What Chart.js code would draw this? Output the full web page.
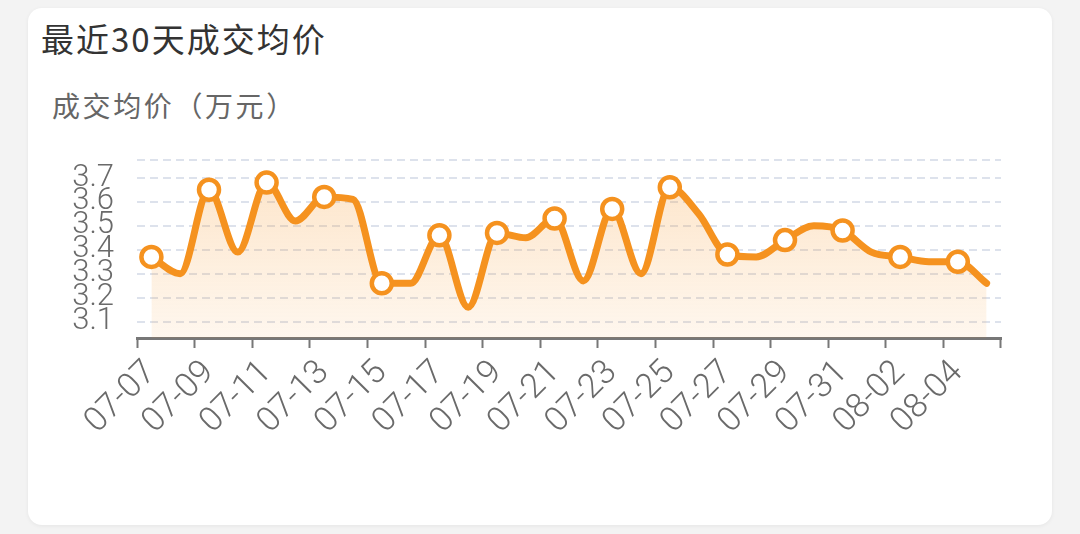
<!DOCTYPE html>
<html>
<head>
<meta charset="utf-8">
<script src="https://cdn.jsdelivr.net/npm/chart.js@4.4.1/dist/chart.umd.min.js"></script>
<style>
  html, body { margin: 0; padding: 0; background: #f3f3f3; }
  #page { position: relative; width: 1080px; height: 534px; overflow: hidden; }
  #card {
    position: absolute; left: 28px; top: 8px; width: 1024px; height: 517px;
    background: #fff; border-radius: 14px; box-shadow: 0 1px 4px rgba(0,0,0,0.06);
  }
  #title {
    position: absolute; left: 41px; top: 14px; line-height: 32px;
    font: 33px "Noto Sans CJK SC", sans-serif; letter-spacing: 2px; color: #333;
  }
  #unit {
    position: absolute; left: 52px; top: 85px; line-height: 28px;
    font: 28px "Noto Sans CJK SC", sans-serif; letter-spacing: 2.6px; color: #666;
  }
  #wrap { position: absolute; left: 0; top: 0; width: 1080px; height: 534px; }
</style>
</head>
<body>
<div id="page">
  <div id="card"></div>
  <div id="title">最近30天成交均价</div>
  <div id="unit">成交均价（万元）</div>
  <div id="wrap"><canvas id="priceChart"></canvas></div>
</div>
<script>
// DATA
const days = [
  '07-07', '07-08', '07-09', '07-10', '07-11', '07-12', '07-13', '07-14', '07-15', '07-16',
  '07-17', '07-18', '07-19', '07-20', '07-21', '07-22', '07-23', '07-24', '07-25', '07-26',
  '07-27', '07-28', '07-29', '07-30', '07-31', '08-01', '08-02', '08-03', '08-04', '08-05'
];
const avgPrice = [
  3.37, 3.30, 3.65, 3.39, 3.68, 3.52, 3.62, 3.61, 3.26, 3.26,
  3.46, 3.16, 3.47, 3.45, 3.53, 3.27, 3.57, 3.30, 3.66, 3.55,
  3.38, 3.37, 3.44, 3.50, 3.48, 3.39, 3.37, 3.35, 3.35, 3.26
];
const yTicks = [3.1, 3.2, 3.3, 3.4, 3.5, 3.6, 3.7];
const yMin = 3.032;
const yMax = 3.774;

const orange = '#f5921f';
const axisGrey = '#777777';

const ctx = document.getElementById('priceChart');

const makeFill = (context) => {
  const area = context.chart.chartArea;
  if (!area) return 'rgba(247,150,40,0.15)';
  const g = context.chart.ctx.createLinearGradient(0, area.top, 0, area.bottom);
  g.addColorStop(0, 'rgba(247,150,40,0.26)');
  g.addColorStop(1, 'rgba(247,150,40,0.08)');
  return g;
};

const priceChart = new Chart(ctx, {
  type: 'line',
  data: {
    labels: days,
    datasets: [{
      data: avgPrice,
      borderColor: orange,
      borderWidth: 7,
      borderCapStyle: 'round',
      cubicInterpolationMode: 'monotone',
      fill: 'start',
      backgroundColor: makeFill,
      pointRadius: (c) => c.dataIndex % 2 === 0 ? 10 : 0,
      pointBorderWidth: 4.5,
      pointBorderColor: orange,
      pointBackgroundColor: '#ffffff',
      pointHoverRadius: 10
    }]
  },
  options: {
    responsive: true,
    maintainAspectRatio: false,
    animation: false,
    layout: { padding: { left: 0, right: 79, top: 160, bottom: 0 } },
    plugins: { legend: { display: false }, tooltip: { enabled: false } },
    scales: {
      x: {
        offset: true,
        afterFit: (s) => { s.height = 196; },
        border: { display: true, color: axisGrey, width: 3 },
        grid: {
          offset: true,
          drawOnChartArea: false,
          drawTicks: true,
          tickLength: 10,
          tickWidth: 2,
          tickColor: (c) => (c.index === undefined || c.index % 2 === 0) ? axisGrey : 'rgba(0,0,0,0)'
        },
        ticks: {
          autoSkip: false,
          minRotation: 45,
          maxRotation: 45,
          padding: 5,
          color: '#6a6a6a',
          font: { family: 'Roboto', size: 34, weight: 300 },
          callback: function (value, index) {
            return index % 2 === 0 ? this.getLabelForValue(value) : '';
          }
        }
      },
      y: {
        min: yMin,
        max: yMax,
        afterFit: (s) => { s.width = 137; },
        afterBuildTicks: (s) => {
          s.ticks = yTicks.concat([yMax]).map(v => ({ value: v }));
        },
        border: { display: false, dash: [8, 5] },
        grid: {
          drawTicks: false,
          color: '#dde2ec',
          lineWidth: 2
        },
        ticks: {
          autoSkip: false,
          padding: 23,
          color: '#6a6a6a',
          font: { family: 'Roboto', size: 31, weight: 300 },
          callback: (v) => yTicks.includes(v) ? v.toFixed(1) : ''
        }
      }
    }
  }
});
</script>
</body>
</html>
